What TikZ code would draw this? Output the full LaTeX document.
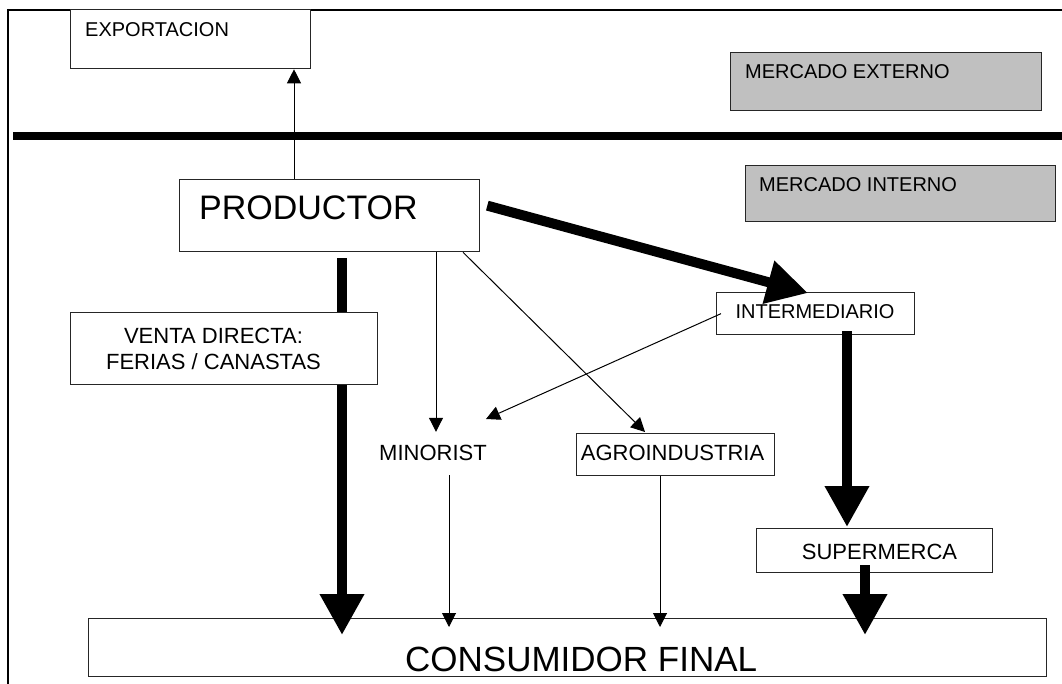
\documentclass[tikz,border=0pt]{standalone}
\usepackage{fontspec}
\setmainfont{Liberation Sans}
\usetikzlibrary{arrows.meta}
\definecolor{boxgray}{RGB}{192,192,192}
\newcommand{\fsz}[1]{\fontsize{#1}{#1}\selectfont}
\tikzset{
  box/.style={draw=black!85, line width=1.3pt, fill=white, inner sep=0pt, anchor=north west},
  graybox/.style={box, fill=boxgray},
  lbl/.style={inner sep=0pt, text=black},
  thinarrow/.style={line width=1pt, -{Triangle[length=14pt,width=14pt]}},
  thickarrow/.style={line width=10pt, -{Triangle[length=41pt,width=42pt]}},
  frameline/.style={line width=2.5pt},
}
\begin{document}
\begin{tikzpicture}[x=1pt,y=-1pt]
\useasboundingbox (0,0) rectangle (1062,684);
% frame
\coordinate (tl) at (8,9);
\coordinate (tr) at (1062,10);
\coordinate (bl) at (8,684);
\coordinate (sl) at (13,136);
\coordinate (sr) at (1062,136);
\draw[frameline] (tl |- tr) -- (tr);
\draw[frameline] (tl) -- (bl);
\draw[line width=8.5pt] (sl) -- (sr);

% boxes
\node[box, minimum width=240pt, minimum height=59pt] (exp) at (70,9) {};
\node[graybox, minimum width=311pt, minimum height=58pt] (ext) at (730,52) {};
\node[graybox, minimum width=310pt, minimum height=56pt] (int) at (745,165) {};
\node[box, minimum width=300pt, minimum height=72pt] (prod) at (179,179) {};
\node[box, minimum width=198pt, minimum height=42pt] (inter) at (716,292) {};
\node[box, minimum width=198pt, minimum height=42pt] (agro) at (576,433) {};
\node[box, minimum width=236pt, minimum height=44pt] (super) at (756,528) {};
\node[box, minimum width=958pt, minimum height=58pt] (cons) at (88,618) {};

% left thick arrow (behind venta box)
\draw[thickarrow] ([shift={(163,6)}]prod.south west) -- ([shift={(254,17)}]cons.north west);
\node[box, minimum width=307pt, minimum height=72pt] (venta) at (70,312) {};

% labels
\node[lbl, anchor=base west, font=\fsz{20}] (texp) at (85,37) {EXPORTACION};
\node[lbl, anchor=base west, font=\fsz{20}] (text) at (745,79) {MERCADO EXTERNO};
\node[lbl, anchor=base west, font=\fsz{20}] (tint) at (759,192) {MERCADO INTERNO};
\node[lbl, anchor=base west, font=\fsz{34}] (tprod) at (199,220) {PRODUCTOR};
\node[lbl, anchor=base, font=\fsz{20}] (tinter) at (815,319) {INTERMEDIARIO};
\node[lbl, anchor=base, font=\fsz{22}] (tventa1) at (213.5,344) {VENTA DIRECTA:};
\node[lbl, anchor=base, font=\fsz{22}] (tventa2) at (213.5,369) {FERIAS / CANASTAS};
\node[lbl, anchor=base, font=\fsz{22}] (tagro) at (672.5,460) {AGROINDUSTRIA};
\node[lbl, anchor=base, font=\fsz{22}] (tsuper) at (879.5,559) {SUPERMERCA};
\node[lbl, anchor=base west, font=\fsz{35}] (tcons) at (405,671) {CONSUMIDOR FINAL};
\node[lbl, font=\fsz{22}, text height=16pt, text depth=0pt] (mino) at (433,452) {MINORIST};

% thick arrows
\draw[thickarrow] ([shift={(7,-10)}]prod.east) -- ([shift={(92,1)}]inter.north west);
\draw[thickarrow] ([shift={(131,-4)}]inter.south west) -- ([shift={(91,-1)}]super.north west);
\draw[thickarrow] ([shift={(109,-8)}]super.south west) -- ([shift={(777,17)}]cons.north west);

% thin arrows
\draw[thinarrow] ([shift={(115,0)}]prod.north west) -- ([shift={(224,0)}]exp.south west);
\draw[thinarrow] ([shift={(257,0)}]prod.south west) -- ([shift={(3,-12)}]mino.north);
\draw[thinarrow] ([shift={(5,0)}]inter.west) -- ([shift={(-1,-33)}]mino.east);
\draw[thinarrow] ([shift={(284,0)}]prod.south west) -- ([shift={(69,-1)}]agro.north west);
\draw[thinarrow] ([shift={(16,15)}]mino.south) -- ([shift={(361,9)}]cons.north west);
\draw[thinarrow] ([shift={(84,0)}]agro.south west) -- ([shift={(572,9)}]cons.north west);
\end{tikzpicture}
\end{document}
